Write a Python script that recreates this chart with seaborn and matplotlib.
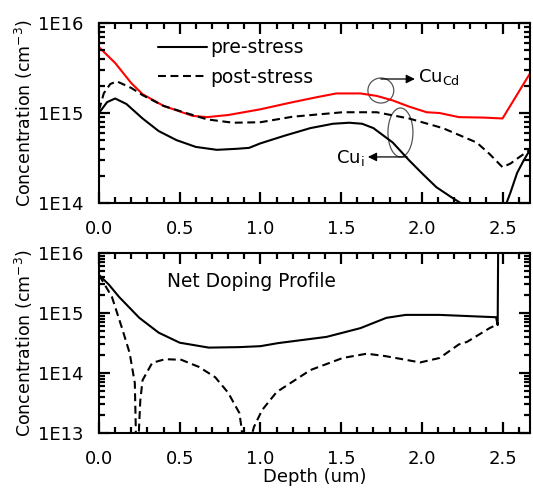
import numpy as np
import matplotlib
matplotlib.use("Agg")
import matplotlib.pyplot as plt
import matplotlib.ticker as mticker
from matplotlib.patches import Ellipse
import seaborn as sns

# ---- top panel: Cu concentrations (depth in um, concentration in cm^-3) ----
cucd_depth = [0, 0.1, 0.2, 0.27, 0.4, 0.58, 0.67, 0.8, 1.0, 1.2, 1.35, 1.47, 1.62,
              1.72, 1.82, 1.92, 2.03, 2.11, 2.23, 2.38, 2.5, 2.67]
cucd_conc = [5.4e15, 3.6e15, 2.15e15, 1.62e15, 1.2e15, 9.3e14, 9.0e14, 9.5e14, 1.1e15,
             1.32e15, 1.5e15, 1.65e15, 1.65e15, 1.55e15, 1.38e15, 1.18e15, 1.02e15,
             1.0e15, 9.0e14, 8.9e14, 8.7e14, 2.75e15]

cui_post_depth = [0, 0.03, 0.07, 0.11, 0.2, 0.27, 0.4, 0.54, 0.67, 0.83, 1.0, 1.2, 1.51,
                  1.72, 1.92, 2.13, 2.34, 2.42, 2.5, 2.55, 2.6, 2.67]
cui_post_conc = [1.07e15, 1.66e15, 2.1e15, 2.25e15, 1.9e15, 1.58e15, 1.2e15, 1.0e15,
                 8.5e14, 7.8e14, 7.9e14, 9.1e14, 1.02e15, 1.02e15, 8.7e14, 6.8e14,
                 4.7e14, 3.5e14, 2.5e14, 2.75e14, 3.2e14, 3.9e14]

cui_pre_depth = [0, 0.05, 0.1, 0.17, 0.27, 0.37, 0.48, 0.6, 0.73, 0.85, 0.93, 1.0, 1.15,
                 1.31, 1.45, 1.55, 1.63, 1.7, 1.82, 1.92, 2.0, 2.09, 2.18, 2.26, 2.35,
                 2.45, 2.52, 2.55, 2.59, 2.63, 2.67]
cui_pre_conc = [1.0e15, 1.32e15, 1.45e15, 1.26e15, 8.7e14, 6.3e14, 5.0e14, 4.2e14,
                3.9e14, 4.0e14, 4.1e14, 4.6e14, 5.6e14, 6.8e14, 7.6e14, 7.8e14, 7.6e14,
                6.8e14, 4.7e14, 3.0e14, 2.15e14, 1.5e14, 1.17e14, 9.5e13, 7.0e13,
                6.3e13, 9.5e13, 1.32e14, 2.15e14, 2.95e14, 3.9e14]

# ---- bottom panel: net doping profile ----
net_pre_depth = [0, 0.06, 0.124, 0.25, 0.37, 0.5, 0.68, 0.87, 1.0, 1.11, 1.41, 1.62,
                 1.78, 1.9, 2.11, 2.46, 2.47, 2.475, 2.6, 2.7]
net_pre_conc = [4.3e15, 3.0e15, 1.86e15, 8.3e14, 4.7e14, 3.2e14, 2.65e14, 2.7e14,
                2.8e14, 3.15e14, 4.0e14, 5.6e14, 8.3e14, 9.3e14, 9.3e14, 8.5e14,
                6.3e14, 1e17, 1e17, 1e17]

net_post_depth = [0, 0.08, 0.14, 0.19, 0.222, 0.228, 0.235, 0.242, 0.248, 0.256, 0.27,
                  0.33, 0.41, 0.51, 0.62, 0.72, 0.8, 0.87, 0.885, 0.915, 0.94, 0.96,
                  1.01, 1.1, 1.31, 1.51, 1.66, 1.78, 1.99, 2.11, 2.23, 2.28, 2.42, 2.47]
net_post_conc = [4.3e15, 1.86e15, 5.9e14, 2.15e14, 6.8e13, 1.2e13, 1e11, 1e11, 1.2e13,
                 3.5e13, 7.6e13, 1.48e14, 1.7e14, 1.66e14, 1.26e14, 8.5e13, 4.7e13,
                 2.15e13, 1.12e13, 1e11, 8e12, 1.26e13, 2.4e13, 4.8e13, 1.12e14,
                 1.78e14, 2.1e14, 1.9e14, 1.5e14, 1.78e14, 3.0e14, 3.3e14, 5.6e14,
                 6.5e14]

depth_ticks = [0.0, 0.5, 1.0, 1.5, 2.0, 2.5]

sns.set_style("ticks")
plt.rcParams["font.family"] = ["DejaVu Sans"]
plt.rcParams["mathtext.fontset"] = "dejavusans"
plt.rcParams.update({
    "xtick.direction": "in", "ytick.direction": "in",
    "xtick.top": True, "ytick.right": True,
    "xtick.color": "black", "ytick.color": "black",
    "xtick.major.size": 8, "xtick.minor.size": 4.5,
    "ytick.major.size": 8, "ytick.minor.size": 4.5,
    "xtick.major.width": 1.6, "xtick.minor.width": 1.6,
    "ytick.major.width": 1.6, "ytick.minor.width": 1.6,
    "xtick.major.pad": 12, "xtick.minor.pad": 12,
    "ytick.major.pad": 11, "ytick.minor.pad": 11,
    "xtick.labelsize": 13, "ytick.labelsize": 13,
    "axes.linewidth": 1.5,
    "axes.edgecolor": "black", "text.color": "black", "axes.labelcolor": "black",
    "axes.axisbelow": False,
})

fig = plt.figure(figsize=(5.33, 4.93), dpi=100)
ax1 = fig.add_axes([0.1857, 0.5882, 0.8086, 0.3651])
ax2 = fig.add_axes([0.1857, 0.1217, 0.8086, 0.3651])

dash = (0, (3.8, 2.2))
lw = 1.5

sns.lineplot(x=cucd_depth, y=cucd_conc, ax=ax1, color="#ff0000", lw=lw,
             estimator=None, sort=False)
sns.lineplot(x=cui_pre_depth, y=cui_pre_conc, ax=ax1, color="black", lw=lw,
             estimator=None, sort=False, label="pre-stress")
sns.lineplot(x=cui_post_depth, y=cui_post_conc, ax=ax1, color="black", lw=lw,
             linestyle=dash, estimator=None, sort=False, label="post-stress")

sns.lineplot(x=net_pre_depth, y=net_pre_conc, ax=ax2, color="black", lw=lw,
             estimator=None, sort=False)
sns.lineplot(x=net_post_depth, y=net_post_conc, ax=ax2, color="black", lw=lw,
             linestyle=dash, estimator=None, sort=False)

def fmt_e(v, pos):
    return "1E%d" % round(np.log10(v))

for ax, ylim in [(ax1, (1e14, 1e16)), (ax2, (1e13, 1e16))]:
    ax.set_yscale("log")
    ax.set_ylim(*ylim)
    ax.set_xlim(0, 2.67)
    ax.xaxis.set_major_locator(mticker.FixedLocator(depth_ticks))
    ax.xaxis.set_major_formatter(mticker.FormatStrFormatter("%.1f"))
    ax.xaxis.set_minor_locator(mticker.MultipleLocator(0.1))
    ax.yaxis.set_major_locator(mticker.LogLocator(base=10, numticks=10))
    ax.yaxis.set_minor_locator(mticker.LogLocator(base=10, subs=np.arange(2, 10), numticks=10))
    ax.yaxis.set_minor_formatter(mticker.NullFormatter())
    ax.yaxis.set_major_formatter(mticker.FuncFormatter(fmt_e))
    ax.tick_params(axis="x", which="both", direction="in", bottom=True, top=True,
                   width=1.6, color="0.0")
    ax.tick_params(axis="y", which="both", direction="in", left=True, right=True,
                   width=1.6, color="0.0")
    ax.xaxis.set_zorder(4)
    ax.yaxis.set_zorder(4)
    ax.set_ylabel("Concentration (cm$^{-3}$)", fontsize=12.5, labelpad=2)

ax2.set_xlabel("Depth (um)", fontsize=13, labelpad=0)
ax1.set_xlabel("")

ax1.legend(loc="upper left", bbox_to_anchor=(0.137, 0.915), frameon=False,
           fontsize=13.5, handlelength=2.6, handletextpad=0.2, labelspacing=0.55,
           borderpad=0, borderaxespad=0)

# annotations (axes coordinates)
ax1.add_patch(Ellipse((0.654, 0.625), 0.060, 0.139, transform=ax1.transAxes,
                      fill=False, edgecolor="#555555", lw=0.9))
ax1.annotate("", xy=(0.733, 0.689), xytext=(0.654, 0.689), xycoords="axes fraction",
             arrowprops=dict(arrowstyle="-|>", color="black", lw=0.9, mutation_scale=13,
                             shrinkA=0, shrinkB=0))
ax1.text(0.740, 0.70, "Cu$_{\\mathregular{Cd}}$", transform=ax1.transAxes, fontsize=13,
         va="center", ha="left")

ax1.add_patch(Ellipse((0.6995, 0.392), 0.058, 0.272, transform=ax1.transAxes,
                      fill=False, edgecolor="#555555", lw=0.9))
ax1.annotate("", xy=(0.624, 0.256), xytext=(0.715, 0.256), xycoords="axes fraction",
             arrowprops=dict(arrowstyle="-|>", color="black", lw=0.9, mutation_scale=13,
                             shrinkA=0, shrinkB=0))
ax1.text(0.617, 0.25, "Cu$_{\\mathregular{i}}$", transform=ax1.transAxes, fontsize=13,
         va="center", ha="right")

ax2.text(0.158, 0.839, "Net Doping Profile", transform=ax2.transAxes, fontsize=13.4,
         va="center", ha="left")

fig.savefig("out.png", dpi=100)
